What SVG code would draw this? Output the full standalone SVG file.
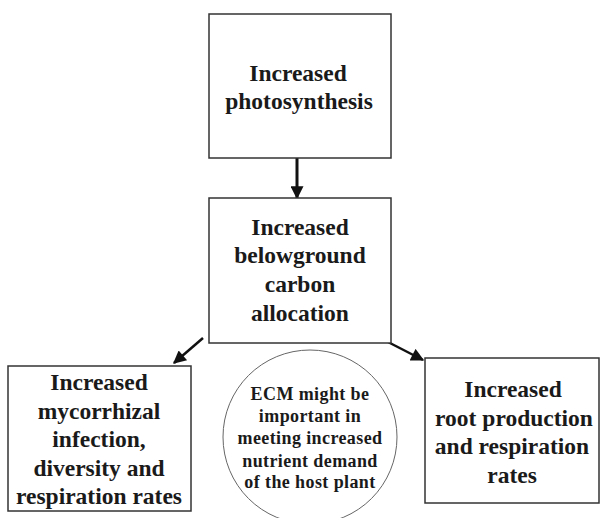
<svg xmlns="http://www.w3.org/2000/svg" width="604" height="518" viewBox="0 0 604 518">
<defs>
<style>
.box{fill:#fff;stroke:#333;stroke-width:1.5}
.t{font-family:"Liberation Serif","Times New Roman",serif;font-weight:bold;fill:#1a1a1a;text-anchor:middle}
.big{font-size:23.5px}
.sm{font-size:18px;letter-spacing:0.4px}
.ln{stroke:#111;stroke-width:2.5;fill:none}
</style>
<marker id="ah" viewBox="0 0 10 10" refX="9" refY="5" markerWidth="15" markerHeight="13" markerUnits="userSpaceOnUse" orient="auto">
<path d="M0,0 L10,5 L0,10 z" fill="#111"/>
</marker>
</defs>
<rect width="604" height="518" fill="#fff"/>
<g id="connectors">
<line class="ln" x1="297" y1="158" x2="297" y2="198" marker-end="url(#ah)" style="stroke-width:3"/>
<line class="ln" x1="203" y1="338" x2="174" y2="363" marker-end="url(#ah)"/>
<line class="ln" x1="388" y1="342" x2="423" y2="360" marker-end="url(#ah)"/>
</g>
<g id="photosynthesis">
<rect class="box" x="209" y="14" width="182" height="144"/>
<text class="t big" x="298" y="81">Increased</text>
<text class="t big" x="299" y="109">photosynthesis</text>
</g>
<g id="belowground">
<rect class="box" x="209" y="198" width="182" height="145"/>
<text class="t big" x="300" y="235">Increased</text>
<text class="t big" x="300" y="263">belowground</text>
<text class="t big" x="300" y="292">carbon</text>
<text class="t big" x="300" y="321">allocation</text>
</g>
<g id="mycorrhizal">
<rect class="box" x="8" y="366" width="183" height="145"/>
<text class="t big" x="99" y="390">Increased</text>
<text class="t big" x="99" y="419">mycorrhizal</text>
<text class="t big" x="99" y="447">infection,</text>
<text class="t big" x="99" y="476">diversity and</text>
<text class="t big" x="99" y="504">respiration rates</text>
</g>
<g id="ecm">
<circle cx="310" cy="437" r="87" fill="#fff" stroke="#666" stroke-width="1"/>
<text class="t sm" x="310" y="400">ECM might be</text>
<text class="t sm" x="310" y="422">important in</text>
<text class="t sm" x="310" y="444">meeting increased</text>
<text class="t sm" x="310" y="467">nutrient demand</text>
<text class="t sm" x="310" y="488">of the host plant</text>
</g>
<g id="root">
<rect class="box" x="425" y="358" width="174" height="145"/>
<text class="t big" x="513" y="397">Increased</text>
<text class="t big" x="514" y="426">root production</text>
<text class="t big" x="512" y="454">and respiration</text>
<text class="t big" x="512" y="483">rates</text>
</g>
</svg>
